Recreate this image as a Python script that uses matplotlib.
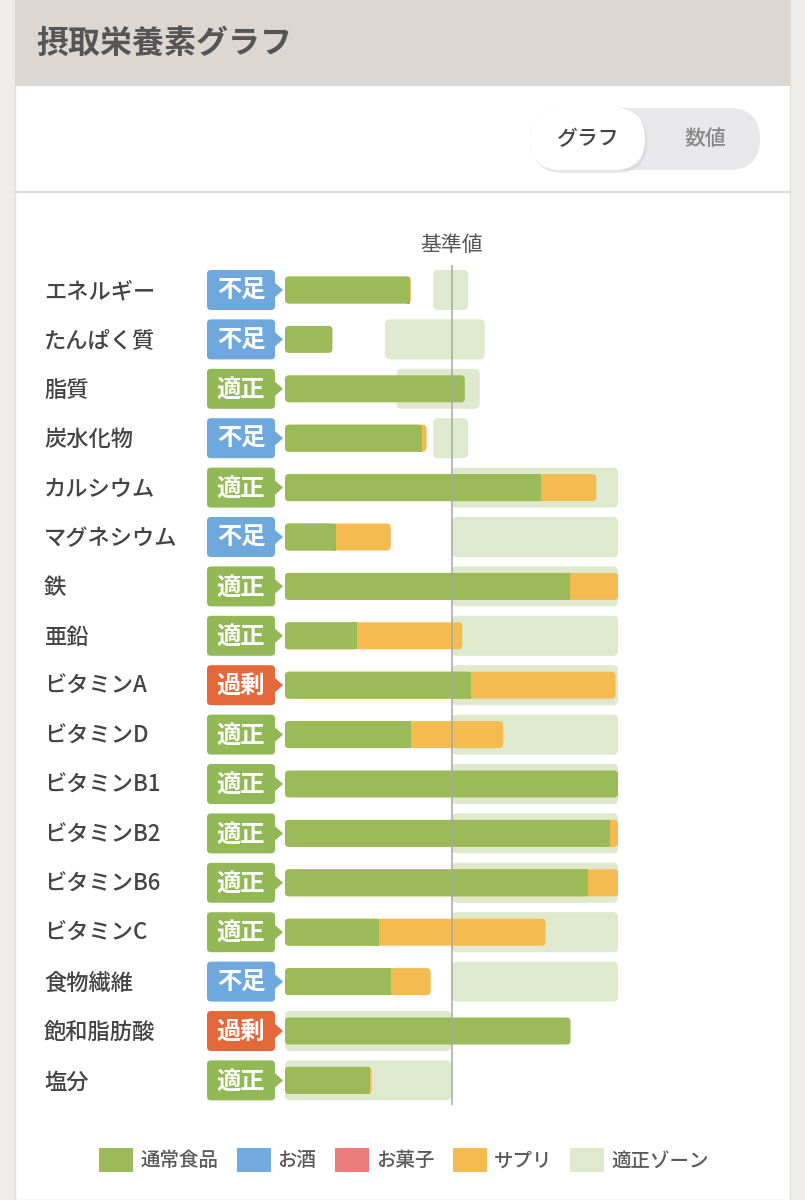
import matplotlib
matplotlib.use("Agg")
import matplotlib.pyplot as plt
from matplotlib.patches import FancyBboxPatch, Rectangle, Polygon, Patch

plt.rcParams['font.family'] = ['Noto Sans CJK JP', 'DejaVu Sans']

# ---------------- data ----------------
nutrients = ['エネルギー', 'たんぱく質', '脂質', '炭水化物', 'カルシウム', 'マグネシウム', '鉄', '亜鉛',
             'ビタミンA', 'ビタミンD', 'ビタミンB1', 'ビタミンB2', 'ビタミンB6', 'ビタミンC',
             '食物繊維', '飽和脂肪酸', '塩分']
status = ['不足', '不足', '適正', '不足', '適正', '不足', '適正', '適正',
          '過剰', '適正', '適正', '適正', '適正', '適正', '不足', '過剰', '適正']
# percent of reference value (基準値 = 100)
food = [75, 28.5, 108, 82, 154, 30.5, 171, 43, 111.5, 75.5, 200, 195, 182, 56.5, 63.5, 171.5, 51]
supplement = [0.6, 0, 0, 3, 33, 33, 29, 63.5, 87, 55.5, 0, 5, 18, 100, 24, 0, 1]
zone_low = [89, 60, 67, 89, 100, 100, 100, 100, 100, 100, 100, 100, 100, 100, 100, 0, 0]
zone_high = [110, 120, 117, 110, 200, 200, 200, 200, 200, 200, 200, 200, 200, 200, 200, 100, 100]
reference = 100
x_max = 200
legend_labels = ['通常食品', 'お酒', 'お菓子', 'サプリ', '適正ゾーン']

# ---------------- styles ----------------
C_FOOD = '#9bbb59'
C_ALC = '#72a9de'
C_SNACK = '#ee7b7b'
C_SUPP = '#f4bb51'
C_ZONE = '#dfe9cd'
badge_colors = {'不足': '#6fa8dc', '適正': '#93b956', '過剰': '#e4683a'}

W, H = 805, 1200
fig = plt.figure(figsize=(W / 100, H / 100), dpi=100)
fig.patch.set_facecolor('#efede9')

# background / page decoration in pixel coordinates
bg = fig.add_axes([0, 0, 1, 1], zorder=0)
bg.set_xlim(0, W)
bg.set_ylim(H, 0)
bg.axis('off')
bg.add_patch(Rectangle((15, 0), 775, H, facecolor='white', edgecolor='#e2e0dc', lw=1))
bg.add_patch(Rectangle((15, 0), 775, 86, facecolor='#ddd6d1', edgecolor='none'))
bg.plot([15, 790], [192, 192], color='#dcdcdc', lw=1.6)
bg.text(36, 44, '摂取栄養素グラフ', fontsize=23, color='#555555', va='center', ha='left',
        fontweight='bold')
# toggle
bg.add_patch(FancyBboxPatch((530, 108), 230, 62, boxstyle='round,pad=0,rounding_size=31',
                            facecolor='#e8e8ea', edgecolor='none'))
bg.add_patch(FancyBboxPatch((532, 111), 115, 62, boxstyle='round,pad=0,rounding_size=31',
                            facecolor='#cfcfcf', edgecolor='none', alpha=0.5))
bg.add_patch(FancyBboxPatch((530, 108), 115, 62, boxstyle='round,pad=0,rounding_size=31',
                            facecolor='white', edgecolor='none'))
bg.text(588, 139, 'グラフ', fontsize=15, color='#444444', ha='center', va='center',
        fontweight='medium')
bg.text(705, 139, '数値', fontsize=15, color='#888888', ha='center', va='center',
        fontweight='medium')

# ---------------- chart axes ----------------
px_left, px_right = 285, 618
row_top, row_step = 290, 49.4
n = len(nutrients)
top_px = row_top - row_step / 2
bot_px = row_top + row_step * (n - 1) + row_step / 2
ax = fig.add_axes([px_left / W, 1 - bot_px / H, (px_right - px_left) / W, (bot_px - top_px) / H], zorder=1)
ax.set_xlim(0, x_max)
ax.set_ylim(n - 0.5, -0.5)
ax.axis('off')
ax.patch.set_alpha(0)

xpx = (px_right - px_left) / x_max          # pixels per x unit
aspect = xpx / row_step                     # y-units per x-unit for equal pixel rounding


def px2x(px):
    return (px - px_left) / xpx


def rbox(x0, y0, w, h, r_px, color, z):
    r = r_px / xpx
    p = FancyBboxPatch((x0, y0), w, h, boxstyle=f'round,pad=0,rounding_size={r}',
                       mutation_aspect=aspect, facecolor=color, edgecolor='none',
                       zorder=z, clip_on=False)
    ax.add_patch(p)


bar_h = 27 / row_step
zone_h = 40 / row_step
for i in range(n):
    # zone
    rbox(zone_low[i], i - zone_h / 2, zone_high[i] - zone_low[i], zone_h, 5, C_ZONE, 1)
    total = food[i] + supplement[i]
    if supplement[i] > 0:
        rbox(0, i - bar_h / 2, total, bar_h, 4, C_SUPP, 2)
        rbox(0, i - bar_h / 2, food[i], bar_h, 4, C_FOOD, 2.1)
        ax.add_patch(Rectangle((food[i] - 4 / xpx, i - bar_h / 2), 4 / xpx, bar_h,
                               facecolor=C_FOOD, edgecolor='none', zorder=2.1))
    else:
        rbox(0, i - bar_h / 2, food[i], bar_h, 4, C_FOOD, 2)
    # label
    ax.text(px2x(44), i + 0.03, nutrients[i], fontsize=16, color='#444444', ha='left', va='center',
            fontweight='medium', clip_on=False)
    # badge
    col = badge_colors[status[i]]
    rbox(px2x(207), i - zone_h / 2, px2x(275) - px2x(207), zone_h, 4, col, 2)
    ax.add_patch(Polygon([(px2x(274), i - 8 / row_step), (px2x(283), i),
                          (px2x(274), i + 8 / row_step)], closed=True,
                         facecolor=col, edgecolor='none', zorder=2, clip_on=False))
    ax.text(px2x(241), i + 0.02, status[i], fontsize=17.5, color='white', fontweight='bold',
            ha='center', va='center', zorder=3, clip_on=False)

ax.axvline(reference, color='#a8a8a8', lw=1.1, zorder=3)
ax.text(reference, 1 + 9 / (bot_px - top_px), '基準値', transform=ax.get_xaxis_transform(),
        fontsize=15, color='#555555', ha='center', va='bottom')

# ---------------- legend ----------------
handles = [Patch(facecolor=c, edgecolor='none') for c in [C_FOOD, C_ALC, C_SNACK, C_SUPP, C_ZONE]]
fig.legend(handles, legend_labels, loc='center', bbox_to_anchor=(404 / W, 1 - 1160 / H),
           ncol=5, frameon=False, labelcolor='#5a5a5a',
           handlelength=1.75, handleheight=1.45, handletextpad=0.35, columnspacing=0.95,
           prop={'weight': 'medium', 'size': 14})

fig.savefig('out.png', dpi=100, facecolor=fig.get_facecolor())
